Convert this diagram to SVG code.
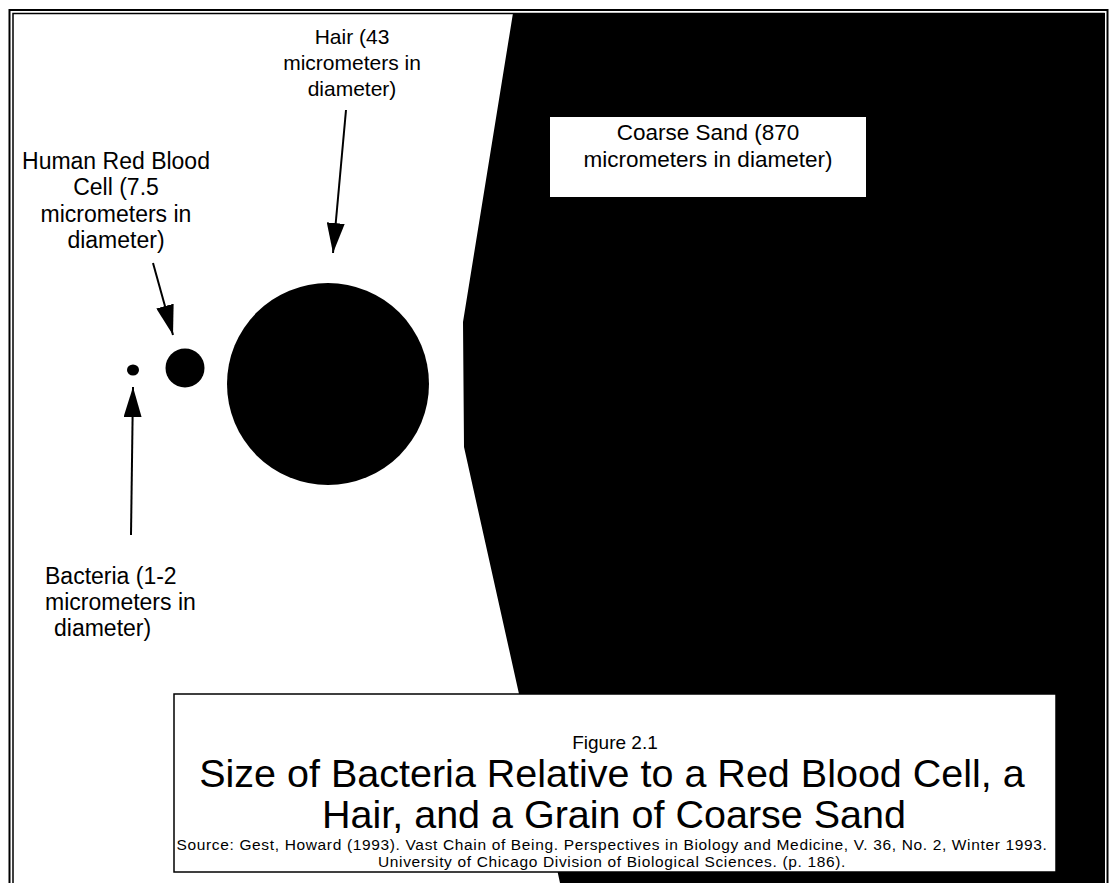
<svg xmlns="http://www.w3.org/2000/svg" width="1112" height="883" viewBox="0 0 1112 883">
  <defs>
    <style>
      .lbl { font-family: "Liberation Sans", Arial, sans-serif; fill: #000; text-anchor: middle; }
      .lft { text-anchor: start; }
      .src { letter-spacing: 0.65px; }
      .conn { stroke: #000; stroke-width: 2; fill: none; marker-end: url(#ah); }
      .blk { fill: #000; }
    </style>
    <marker id="ah" markerUnits="userSpaceOnUse" markerWidth="30" markerHeight="18" refX="30" refY="9" orient="auto">
      <path d="M0,0 L30,9 L0,18 Z" fill="#000"/>
    </marker>
  </defs>
  <rect x="0" y="0" width="1112" height="883" fill="#fff"/>

  <g id="sand">
    <path class="blk" d="M513,13 L1105,13 L1105,883 L560,883 L519,694 L464,447 L463,322 Z"/>
  </g>

  <g id="frame" fill="none" stroke="#000">
    <rect x="9.5" y="10" width="1098" height="900" stroke-width="2"/>
    <rect x="13" y="13.5" width="1091" height="900" stroke-width="1.5"/>
  </g>

  <g id="bacteria">
    <ellipse cx="133" cy="370" rx="6" ry="5.5" class="blk"/>
    <text class="lbl lft" font-size="23" x="45" y="584">Bacteria (1-2</text>
    <text class="lbl lft" font-size="23" x="45" y="610">micrometers in</text>
    <text class="lbl lft" font-size="23" x="54" y="636">diameter)</text>
  </g>

  <g id="rbc">
    <circle cx="185" cy="368" r="19.5" class="blk"/>
    <text class="lbl" font-size="23" x="116" y="169">Human Red Blood</text>
    <text class="lbl" font-size="23" x="116" y="195">Cell (7.5</text>
    <text class="lbl" font-size="23" x="116" y="222">micrometers in</text>
    <text class="lbl" font-size="23" x="116" y="248">diameter)</text>
  </g>

  <g id="hair">
    <circle cx="328" cy="384" r="101" class="blk"/>
    <text class="lbl" font-size="21" x="352" y="44">Hair (43</text>
    <text class="lbl" font-size="21" x="352" y="70">micrometers in</text>
    <text class="lbl" font-size="21" x="352" y="96">diameter)</text>
  </g>

  <g id="coarse-sand-label">
    <rect x="550" y="117" width="316" height="80" fill="#fff"/>
    <text class="lbl" font-size="22.5" x="708" y="140">Coarse Sand (870</text>
    <text class="lbl" font-size="22.5" x="708" y="167">micrometers in diameter)</text>
  </g>

  <g id="connectors">
    <line class="conn" x1="346" y1="110" x2="333" y2="253"/>
    <line class="conn" x1="153" y1="263" x2="173" y2="335"/>
    <line class="conn" x1="131" y1="535" x2="133" y2="387"/>
  </g>

  <g id="title-box">
    <rect x="174" y="694" width="882" height="178" fill="#fff" stroke="#000" stroke-width="1.5"/>
    <text class="lbl" font-size="19" x="615" y="749">Figure 2.1</text>
    <text class="lbl" font-size="39.5" x="612" y="787">Size of Bacteria Relative to a Red Blood Cell, a</text>
    <text class="lbl" font-size="39.5" x="614" y="828">Hair, and a Grain of Coarse Sand</text>
    <text class="lbl src" font-size="15.5" x="612" y="850">Source: Gest, Howard (1993). Vast Chain of Being. Perspectives in Biology and Medicine, V. 36, No. 2, Winter 1993.</text>
    <text class="lbl src" font-size="15.5" x="612" y="867">University of Chicago Division of Biological Sciences. (p. 186).</text>
  </g>
</svg>
